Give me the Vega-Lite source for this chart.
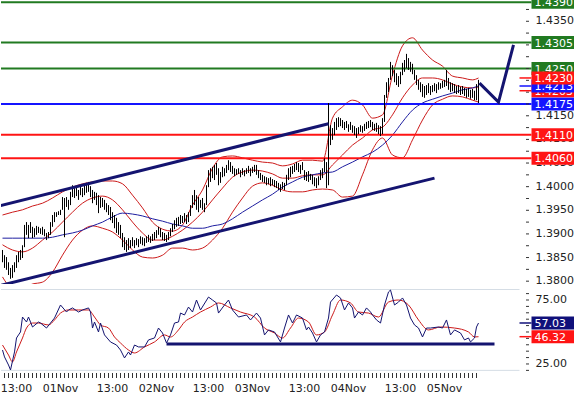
{
"$schema":"https://vega.github.io/schema/vega-lite/v6.json",
"padding":0,"background":"white","bounds":"flush","spacing":5,
"config":{"view":{"stroke":null},"font":"DejaVu Sans"},
"resolve":{"scale":{"x":"independent","y":"independent","color":"independent"}},
"datasets":{
"bars":[
{"t":"2010-10-31T09:30","h":1.3866,"l":1.3840},{"t":"2010-10-31T10:00","h":1.3855,"l":1.3828},{"t":"2010-10-31T10:30","h":1.3851,"l":1.3824},{"t":"2010-10-31T11:00","h":1.3840,"l":1.3813},{"t":"2010-10-31T11:30","h":1.3828,"l":1.3805},{"t":"2010-10-31T12:00","h":1.3834,"l":1.3807},{"t":"2010-10-31T12:30","h":1.3840,"l":1.3819},{"t":"2010-10-31T13:00","h":1.3855,"l":1.3828},{"t":"2010-10-31T13:30","h":1.3862,"l":1.3840},{"t":"2010-10-31T14:00","h":1.3866,"l":1.3845},{"t":"2010-10-31T14:30","h":1.3876,"l":1.3849},{"t":"2010-10-31T15:00","h":1.3919,"l":1.3872},{"t":"2010-10-31T15:30","h":1.3925,"l":1.3898},{"t":"2010-10-31T16:00","h":1.3919,"l":1.3891},{"t":"2010-10-31T16:30","h":1.3925,"l":1.3902},{"t":"2010-10-31T17:00","h":1.3915,"l":1.3891},{"t":"2010-10-31T17:30","h":1.3912,"l":1.3893},{"t":"2010-10-31T18:00","h":1.3917,"l":1.3898},{"t":"2010-10-31T18:30","h":1.3915,"l":1.3902},{"t":"2010-10-31T19:00","h":1.3912,"l":1.3900},{"t":"2010-10-31T19:30","h":1.3915,"l":1.3898},{"t":"2010-10-31T20:00","h":1.3910,"l":1.3895},{"t":"2010-10-31T20:30","h":1.3902,"l":1.3887},{"t":"2010-10-31T21:00","h":1.3904,"l":1.3891},{"t":"2010-10-31T21:30","h":1.3925,"l":1.3898},{"t":"2010-10-31T22:00","h":1.3940,"l":1.3915},{"t":"2010-10-31T22:30","h":1.3946,"l":1.3925},{"t":"2010-10-31T23:00","h":1.3946,"l":1.3936},{"t":"2010-10-31T23:30","h":1.3948,"l":1.3940},
{"t":"2010-11-01T00:00","h":1.3951,"l":1.3940},{"t":"2010-11-01T00:30","h":1.3978,"l":1.3951},{"t":"2010-11-01T01:00","h":1.3976,"l":1.3893},{"t":"2010-11-01T01:30","h":1.3978,"l":1.3957},{"t":"2010-11-01T02:00","h":1.3972,"l":1.3951},{"t":"2010-11-01T02:30","h":1.3989,"l":1.3961},{"t":"2010-11-01T03:00","h":1.4003,"l":1.3978},{"t":"2010-11-01T03:30","h":1.3997,"l":1.3976},{"t":"2010-11-01T04:00","h":1.3999,"l":1.3980},{"t":"2010-11-01T04:30","h":1.3993,"l":1.3972},{"t":"2010-11-01T05:00","h":1.4001,"l":1.3982},{"t":"2010-11-01T05:30","h":1.3997,"l":1.3978},{"t":"2010-11-01T06:00","h":1.4003,"l":1.3982},{"t":"2010-11-01T06:30","h":1.4008,"l":1.3987},{"t":"2010-11-01T07:00","h":1.4010,"l":1.3989},{"t":"2010-11-01T07:30","h":1.4001,"l":1.3978},{"t":"2010-11-01T08:00","h":1.3993,"l":1.3965},{"t":"2010-11-01T08:30","h":1.3989,"l":1.3972},{"t":"2010-11-01T09:00","h":1.3987,"l":1.3961},{"t":"2010-11-01T09:30","h":1.3982,"l":1.3944},{"t":"2010-11-01T10:00","h":1.3978,"l":1.3955},{"t":"2010-11-01T10:30","h":1.3976,"l":1.3957},{"t":"2010-11-01T11:00","h":1.3972,"l":1.3951},{"t":"2010-11-01T11:30","h":1.3965,"l":1.3946},{"t":"2010-11-01T12:00","h":1.3961,"l":1.3940},{"t":"2010-11-01T12:30","h":1.3957,"l":1.3929},{"t":"2010-11-01T13:00","h":1.3946,"l":1.3923},{"t":"2010-11-01T13:30","h":1.3940,"l":1.3912},{"t":"2010-11-01T14:00","h":1.3934,"l":1.3902},{"t":"2010-11-01T14:30","h":1.3925,"l":1.3898},{"t":"2010-11-01T15:00","h":1.3919,"l":1.3891},{"t":"2010-11-01T15:30","h":1.3902,"l":1.3872},{"t":"2010-11-01T16:00","h":1.3893,"l":1.3866},{"t":"2010-11-01T16:30","h":1.3887,"l":1.3862},{"t":"2010-11-01T17:00","h":1.3891,"l":1.3866},{"t":"2010-11-01T17:30","h":1.3887,"l":1.3870},{"t":"2010-11-01T18:00","h":1.3893,"l":1.3874},{"t":"2010-11-01T18:30","h":1.3887,"l":1.3870},{"t":"2010-11-01T19:00","h":1.3891,"l":1.3876},{"t":"2010-11-01T19:30","h":1.3889,"l":1.3872},{"t":"2010-11-01T20:00","h":1.3895,"l":1.3879},{"t":"2010-11-01T20:30","h":1.3893,"l":1.3876},{"t":"2010-11-01T21:00","h":1.3891,"l":1.3874},{"t":"2010-11-01T21:30","h":1.3895,"l":1.3881},{"t":"2010-11-01T22:00","h":1.3898,"l":1.3883},{"t":"2010-11-01T22:30","h":1.3895,"l":1.3881},{"t":"2010-11-01T23:00","h":1.3900,"l":1.3885},{"t":"2010-11-01T23:30","h":1.3904,"l":1.3887},
{"t":"2010-11-02T00:00","h":1.3908,"l":1.3891},{"t":"2010-11-02T00:30","h":1.3915,"l":1.3898},{"t":"2010-11-02T01:00","h":1.3912,"l":1.3893},{"t":"2010-11-02T01:30","h":1.3904,"l":1.3887},{"t":"2010-11-02T02:00","h":1.3902,"l":1.3885},{"t":"2010-11-02T02:30","h":1.3898,"l":1.3883},{"t":"2010-11-02T03:00","h":1.3904,"l":1.3887},{"t":"2010-11-02T03:30","h":1.3912,"l":1.3895},{"t":"2010-11-02T04:00","h":1.3921,"l":1.3904},{"t":"2010-11-02T04:30","h":1.3929,"l":1.3910},{"t":"2010-11-02T05:00","h":1.3934,"l":1.3915},{"t":"2010-11-02T05:30","h":1.3936,"l":1.3917},{"t":"2010-11-02T06:00","h":1.3940,"l":1.3921},{"t":"2010-11-02T06:30","h":1.3938,"l":1.3923},{"t":"2010-11-02T07:00","h":1.3944,"l":1.3925},{"t":"2010-11-02T07:30","h":1.3940,"l":1.3921},{"t":"2010-11-02T08:00","h":1.3946,"l":1.3925},{"t":"2010-11-02T08:30","h":1.3961,"l":1.3938},{"t":"2010-11-02T09:00","h":1.3982,"l":1.3955},{"t":"2010-11-02T09:30","h":1.3993,"l":1.3961},{"t":"2010-11-02T10:00","h":1.3982,"l":1.3951},{"t":"2010-11-02T10:30","h":1.3978,"l":1.3946},{"t":"2010-11-02T11:00","h":1.3972,"l":1.3955},{"t":"2010-11-02T11:30","h":1.3976,"l":1.3951},{"t":"2010-11-02T12:00","h":1.3965,"l":1.3946},{"t":"2010-11-02T12:30","h":1.4003,"l":1.3961},{"t":"2010-11-02T13:00","h":1.4035,"l":1.3999},{"t":"2010-11-02T13:30","h":1.4039,"l":1.4010},{"t":"2010-11-02T14:00","h":1.4042,"l":1.4018},{"t":"2010-11-02T14:30","h":1.4046,"l":1.4014},{"t":"2010-11-02T15:00","h":1.4050,"l":1.4025},{"t":"2010-11-02T15:30","h":1.4039,"l":1.4003},{"t":"2010-11-02T16:00","h":1.4031,"l":1.4008},{"t":"2010-11-02T16:30","h":1.4042,"l":1.4020},{"t":"2010-11-02T17:00","h":1.4039,"l":1.4022},{"t":"2010-11-02T17:30","h":1.4046,"l":1.4029},{"t":"2010-11-02T18:00","h":1.4056,"l":1.4035},{"t":"2010-11-02T18:30","h":1.4052,"l":1.4031},{"t":"2010-11-02T19:00","h":1.4044,"l":1.4027},{"t":"2010-11-02T19:30","h":1.4039,"l":1.4022},{"t":"2010-11-02T20:00","h":1.4037,"l":1.4025},{"t":"2010-11-02T20:30","h":1.4039,"l":1.4027},{"t":"2010-11-02T21:00","h":1.4035,"l":1.4020},{"t":"2010-11-02T21:30","h":1.4039,"l":1.4025},{"t":"2010-11-02T22:00","h":1.4035,"l":1.4022},{"t":"2010-11-02T22:30","h":1.4039,"l":1.4027},{"t":"2010-11-02T23:00","h":1.4044,"l":1.4029},{"t":"2010-11-02T23:30","h":1.4039,"l":1.4022},
{"t":"2010-11-03T00:00","h":1.4042,"l":1.4029},{"t":"2010-11-03T00:30","h":1.4046,"l":1.4031},{"t":"2010-11-03T01:00","h":1.4046,"l":1.4025},{"t":"2010-11-03T01:30","h":1.4035,"l":1.4018},{"t":"2010-11-03T02:00","h":1.4029,"l":1.4014},{"t":"2010-11-03T02:30","h":1.4025,"l":1.4010},{"t":"2010-11-03T03:00","h":1.4022,"l":1.4008},{"t":"2010-11-03T03:30","h":1.4020,"l":1.4003},{"t":"2010-11-03T04:00","h":1.4018,"l":1.4005},{"t":"2010-11-03T04:30","h":1.4020,"l":1.4001},{"t":"2010-11-03T05:00","h":1.4016,"l":1.4003},{"t":"2010-11-03T05:30","h":1.4014,"l":1.3999},{"t":"2010-11-03T06:00","h":1.4012,"l":1.3997},{"t":"2010-11-03T06:30","h":1.4008,"l":1.3993},{"t":"2010-11-03T07:00","h":1.4005,"l":1.3989},{"t":"2010-11-03T07:30","h":1.4010,"l":1.3995},{"t":"2010-11-03T08:00","h":1.4008,"l":1.3993},{"t":"2010-11-03T08:30","h":1.4025,"l":1.4003},{"t":"2010-11-03T09:00","h":1.4039,"l":1.4014},{"t":"2010-11-03T09:30","h":1.4042,"l":1.4020},{"t":"2010-11-03T10:00","h":1.4044,"l":1.4027},{"t":"2010-11-03T10:30","h":1.4048,"l":1.4031},{"t":"2010-11-03T11:00","h":1.4052,"l":1.4035},{"t":"2010-11-03T11:30","h":1.4050,"l":1.4031},{"t":"2010-11-03T12:00","h":1.4046,"l":1.4027},{"t":"2010-11-03T12:30","h":1.4052,"l":1.4035},{"t":"2010-11-03T13:00","h":1.4035,"l":1.4014},{"t":"2010-11-03T13:30","h":1.4031,"l":1.4012},{"t":"2010-11-03T14:00","h":1.4033,"l":1.4010},{"t":"2010-11-03T14:30","h":1.4027,"l":1.4014},{"t":"2010-11-03T15:00","h":1.4025,"l":1.4005},{"t":"2010-11-03T15:30","h":1.4020,"l":1.4001},{"t":"2010-11-03T16:00","h":1.4018,"l":1.3997},{"t":"2010-11-03T16:30","h":1.4022,"l":1.4003},{"t":"2010-11-03T17:00","h":1.4035,"l":1.4014},{"t":"2010-11-03T17:30","h":1.4039,"l":1.4018},{"t":"2010-11-03T18:00","h":1.4060,"l":1.4031},{"t":"2010-11-03T18:30","h":1.4052,"l":1.3997},{"t":"2010-11-03T19:00","h":1.4177,"l":1.4003},{"t":"2010-11-03T19:30","h":1.4130,"l":1.4088},{"t":"2010-11-03T20:00","h":1.4124,"l":1.4099},{"t":"2010-11-03T20:30","h":1.4137,"l":1.4109},{"t":"2010-11-03T21:00","h":1.4145,"l":1.4120},{"t":"2010-11-03T21:30","h":1.4147,"l":1.4126},{"t":"2010-11-03T22:00","h":1.4145,"l":1.4128},{"t":"2010-11-03T22:30","h":1.4141,"l":1.4124},{"t":"2010-11-03T23:00","h":1.4137,"l":1.4120},{"t":"2010-11-03T23:30","h":1.4139,"l":1.4124},
{"t":"2010-11-04T00:00","h":1.4132,"l":1.4116},{"t":"2010-11-04T00:30","h":1.4137,"l":1.4120},{"t":"2010-11-04T01:00","h":1.4130,"l":1.4114},{"t":"2010-11-04T01:30","h":1.4128,"l":1.4109},{"t":"2010-11-04T02:00","h":1.4124,"l":1.4103},{"t":"2010-11-04T02:30","h":1.4126,"l":1.4111},{"t":"2010-11-04T03:00","h":1.4130,"l":1.4116},{"t":"2010-11-04T03:30","h":1.4128,"l":1.4114},{"t":"2010-11-04T04:00","h":1.4133,"l":1.4118},{"t":"2010-11-04T04:30","h":1.4137,"l":1.4122},{"t":"2010-11-04T05:00","h":1.4139,"l":1.4124},{"t":"2010-11-04T05:30","h":1.4141,"l":1.4126},{"t":"2010-11-04T06:00","h":1.4137,"l":1.4120},{"t":"2010-11-04T06:30","h":1.4133,"l":1.4118},{"t":"2010-11-04T07:00","h":1.4135,"l":1.4116},{"t":"2010-11-04T07:30","h":1.4130,"l":1.4111},{"t":"2010-11-04T08:00","h":1.4128,"l":1.4107},{"t":"2010-11-04T08:30","h":1.4145,"l":1.4111},{"t":"2010-11-04T09:00","h":1.4194,"l":1.4137},{"t":"2010-11-04T09:30","h":1.4221,"l":1.4188},{"t":"2010-11-04T10:00","h":1.4230,"l":1.4200},{"t":"2010-11-04T10:30","h":1.4264,"l":1.4226},{"t":"2010-11-04T11:00","h":1.4257,"l":1.4234},{"t":"2010-11-04T11:30","h":1.4247,"l":1.4221},{"t":"2010-11-04T12:00","h":1.4240,"l":1.4215},{"t":"2010-11-04T12:30","h":1.4234,"l":1.4211},{"t":"2010-11-04T13:00","h":1.4243,"l":1.4217},{"t":"2010-11-04T13:30","h":1.4262,"l":1.4236},{"t":"2010-11-04T14:00","h":1.4268,"l":1.4243},{"t":"2010-11-04T14:30","h":1.4281,"l":1.4251},{"t":"2010-11-04T15:00","h":1.4272,"l":1.4247},{"t":"2010-11-04T15:30","h":1.4264,"l":1.4243},{"t":"2010-11-04T16:00","h":1.4260,"l":1.4238},{"t":"2010-11-04T16:30","h":1.4247,"l":1.4226},{"t":"2010-11-04T17:00","h":1.4236,"l":1.4215},{"t":"2010-11-04T17:30","h":1.4226,"l":1.4205},{"t":"2010-11-04T18:00","h":1.4221,"l":1.4200},{"t":"2010-11-04T18:30","h":1.4217,"l":1.4190},{"t":"2010-11-04T19:00","h":1.4213,"l":1.4188},{"t":"2010-11-04T19:30","h":1.4215,"l":1.4194},{"t":"2010-11-04T20:00","h":1.4219,"l":1.4198},{"t":"2010-11-04T20:30","h":1.4213,"l":1.4194},{"t":"2010-11-04T21:00","h":1.4215,"l":1.4200},{"t":"2010-11-04T21:30","h":1.4219,"l":1.4202},{"t":"2010-11-04T22:00","h":1.4217,"l":1.4198},{"t":"2010-11-04T22:30","h":1.4221,"l":1.4205},{"t":"2010-11-04T23:00","h":1.4219,"l":1.4207},{"t":"2010-11-04T23:30","h":1.4224,"l":1.4209},
{"t":"2010-11-05T00:00","h":1.4226,"l":1.4211},{"t":"2010-11-05T00:30","h":1.4247,"l":1.4213},{"t":"2010-11-05T01:00","h":1.4230,"l":1.4205},{"t":"2010-11-05T01:30","h":1.4221,"l":1.4200},{"t":"2010-11-05T02:00","h":1.4219,"l":1.4202},{"t":"2010-11-05T02:30","h":1.4217,"l":1.4198},{"t":"2010-11-05T03:00","h":1.4213,"l":1.4196},{"t":"2010-11-05T03:30","h":1.4215,"l":1.4198},{"t":"2010-11-05T04:00","h":1.4211,"l":1.4194},{"t":"2010-11-05T04:30","h":1.4213,"l":1.4196},{"t":"2010-11-05T05:00","h":1.4209,"l":1.4192},{"t":"2010-11-05T05:30","h":1.4207,"l":1.4188},{"t":"2010-11-05T06:00","h":1.4209,"l":1.4190},{"t":"2010-11-05T06:30","h":1.4205,"l":1.4186},{"t":"2010-11-05T07:00","h":1.4207,"l":1.4188},{"t":"2010-11-05T07:30","h":1.4203,"l":1.4183},{"t":"2010-11-05T08:00","h":1.4217,"l":1.4183},{"t":"2010-11-05T08:30","h":1.4226,"l":1.4177}
],
"bands":[
{"t":"2010-10-31T09:30","ub":1.3940,"mb":1.3877,"lb":1.3809,"ma":1.3891},{"t":"2010-10-31T12:00","ub":1.3946,"mb":1.3866,"lb":1.3786,"ma":1.3891},{"t":"2010-10-31T14:30","ub":1.3951,"mb":1.3862,"lb":1.3786,"ma":1.3891},{"t":"2010-10-31T17:00","ub":1.3959,"mb":1.3870,"lb":1.3794,"ma":1.3891},{"t":"2010-10-31T19:30","ub":1.3965,"mb":1.3887,"lb":1.3798,"ma":1.3891},{"t":"2010-10-31T22:00","ub":1.3976,"mb":1.3904,"lb":1.3819,"ma":1.3893},
{"t":"2010-11-01T00:30","ub":1.3989,"mb":1.3925,"lb":1.3855,"ma":1.3898},{"t":"2010-11-01T03:00","ub":1.3999,"mb":1.3946,"lb":1.3887,"ma":1.3902},{"t":"2010-11-01T05:30","ub":1.4006,"mb":1.3965,"lb":1.3908,"ma":1.3908},{"t":"2010-11-01T08:00","ub":1.4010,"mb":1.3976,"lb":1.3917,"ma":1.3917},{"t":"2010-11-01T10:30","ub":1.4012,"mb":1.3980,"lb":1.3912,"ma":1.3925},{"t":"2010-11-01T13:00","ub":1.4012,"mb":1.3972,"lb":1.3904,"ma":1.3936},{"t":"2010-11-01T15:30","ub":1.4006,"mb":1.3951,"lb":1.3887,"ma":1.3944},{"t":"2010-11-01T18:00","ub":1.3982,"mb":1.3925,"lb":1.3866,"ma":1.3942},{"t":"2010-11-01T20:30","ub":1.3955,"mb":1.3902,"lb":1.3851,"ma":1.3938},{"t":"2010-11-01T23:00","ub":1.3925,"mb":1.3887,"lb":1.3849,"ma":1.3932},
{"t":"2010-11-02T01:30","ub":1.3910,"mb":1.3887,"lb":1.3855,"ma":1.3927},{"t":"2010-11-02T04:00","ub":1.3906,"mb":1.3895,"lb":1.3870,"ma":1.3921},{"t":"2010-11-02T06:30","ub":1.3919,"mb":1.3908,"lb":1.3870,"ma":1.3917},{"t":"2010-11-02T09:00","ub":1.3961,"mb":1.3925,"lb":1.3866,"ma":1.3912},{"t":"2010-11-02T11:30","ub":1.3993,"mb":1.3946,"lb":1.3870,"ma":1.3912},{"t":"2010-11-02T14:00","ub":1.4039,"mb":1.3972,"lb":1.3887,"ma":1.3917},{"t":"2010-11-02T16:30","ub":1.4063,"mb":1.3997,"lb":1.3912,"ma":1.3921},{"t":"2010-11-02T19:00","ub":1.4065,"mb":1.4020,"lb":1.3946,"ma":1.3932},{"t":"2010-11-02T21:30","ub":1.4061,"mb":1.4031,"lb":1.3976,"ma":1.3946},
{"t":"2010-11-03T00:00","ub":1.4056,"mb":1.4035,"lb":1.4001,"ma":1.3959},{"t":"2010-11-03T02:30","ub":1.4052,"mb":1.4033,"lb":1.4008,"ma":1.3972},{"t":"2010-11-03T05:00","ub":1.4050,"mb":1.4027,"lb":1.4003,"ma":1.3984},{"t":"2010-11-03T07:30","ub":1.4044,"mb":1.4018,"lb":1.3993,"ma":1.3999},{"t":"2010-11-03T10:00","ub":1.4048,"mb":1.4018,"lb":1.3989,"ma":1.4010},{"t":"2010-11-03T12:30","ub":1.4056,"mb":1.4023,"lb":1.3989,"ma":1.4020},{"t":"2010-11-03T15:00","ub":1.4056,"mb":1.4025,"lb":1.3993,"ma":1.4025},{"t":"2010-11-03T17:30","ub":1.4054,"mb":1.4025,"lb":1.3995,"ma":1.4029},{"t":"2010-11-03T20:00","ub":1.4145,"mb":1.4046,"lb":1.3993,"ma":1.4031},{"t":"2010-11-03T22:30","ub":1.4169,"mb":1.4067,"lb":1.3978,"ma":1.4042},
{"t":"2010-11-04T01:00","ub":1.4183,"mb":1.4088,"lb":1.3980,"ma":1.4052},{"t":"2010-11-04T03:30","ub":1.4173,"mb":1.4103,"lb":1.4025,"ma":1.4063},{"t":"2010-11-04T06:00","ub":1.4145,"mb":1.4120,"lb":1.4078,"ma":1.4073},{"t":"2010-11-04T08:30","ub":1.4152,"mb":1.4126,"lb":1.4103,"ma":1.4088},{"t":"2010-11-04T11:00","ub":1.4236,"mb":1.4152,"lb":1.4067,"ma":1.4109},{"t":"2010-11-04T13:30","ub":1.4298,"mb":1.4188,"lb":1.4061,"ma":1.4137},{"t":"2010-11-04T16:00","ub":1.4315,"mb":1.4215,"lb":1.4099,"ma":1.4162},{"t":"2010-11-04T18:30","ub":1.4289,"mb":1.4230,"lb":1.4141,"ma":1.4177},{"t":"2010-11-04T21:00","ub":1.4268,"mb":1.4230,"lb":1.4173,"ma":1.4185},{"t":"2010-11-04T23:30","ub":1.4255,"mb":1.4226,"lb":1.4185,"ma":1.4192},
{"t":"2010-11-05T02:00","ub":1.4234,"mb":1.4217,"lb":1.4192,"ma":1.4198},{"t":"2010-11-05T04:30","ub":1.4230,"mb":1.4211,"lb":1.4190,"ma":1.4205},{"t":"2010-11-05T07:00","ub":1.4226,"mb":1.4209,"lb":1.4183,"ma":1.4209},{"t":"2010-11-05T08:30","ub":1.4230,"mb":1.4211,"lb":1.4179,"ma":1.4213}
],
"rsi":[
{"t":"2010-10-31T09:30","v":35.9},{"t":"2010-10-31T10:00","v":30.5},{"t":"2010-10-31T11:00","v":24.2},{"t":"2010-10-31T11:30","v":20.3},{"t":"2010-10-31T12:30","v":34.4},{"t":"2010-10-31T13:00","v":45.3},{"t":"2010-10-31T13:30","v":47.7},{"t":"2010-10-31T14:00","v":50.0},{"t":"2010-10-31T14:30","v":61.7},{"t":"2010-10-31T15:30","v":57.8},{"t":"2010-10-31T16:00","v":61.7},{"t":"2010-10-31T17:00","v":53.9},{"t":"2010-10-31T18:30","v":57.8},{"t":"2010-10-31T19:00","v":57.0},{"t":"2010-10-31T20:30","v":53.1},{"t":"2010-10-31T21:30","v":57.0},{"t":"2010-10-31T22:30","v":60.9},
{"t":"2010-11-01T00:00","v":71.1},{"t":"2010-11-01T01:30","v":65.6},{"t":"2010-11-01T02:00","v":67.2},{"t":"2010-11-01T03:00","v":68.8},{"t":"2010-11-01T04:30","v":65.6},{"t":"2010-11-01T05:30","v":67.2},{"t":"2010-11-01T07:00","v":68.8},{"t":"2010-11-01T07:30","v":65.6},{"t":"2010-11-01T08:00","v":53.1},{"t":"2010-11-01T08:30","v":57.8},{"t":"2010-11-01T09:30","v":50.0},{"t":"2010-11-01T10:00","v":57.0},{"t":"2010-11-01T11:00","v":47.7},{"t":"2010-11-01T12:30","v":42.2},{"t":"2010-11-01T14:00","v":39.8},{"t":"2010-11-01T15:00","v":35.9},{"t":"2010-11-01T16:00","v":29.7},{"t":"2010-11-01T17:00","v":34.4},{"t":"2010-11-01T17:30","v":32.0},{"t":"2010-11-01T18:30","v":39.8},{"t":"2010-11-01T19:30","v":38.3},{"t":"2010-11-01T21:00","v":38.3},{"t":"2010-11-01T22:00","v":43.8},{"t":"2010-11-01T23:30","v":45.3},
{"t":"2010-11-02T00:30","v":53.1},{"t":"2010-11-02T01:30","v":49.2},{"t":"2010-11-02T02:30","v":41.4},{"t":"2010-11-02T03:30","v":47.7},{"t":"2010-11-02T04:30","v":57.0},{"t":"2010-11-02T05:30","v":57.8},{"t":"2010-11-02T06:00","v":64.8},{"t":"2010-11-02T07:00","v":63.3},{"t":"2010-11-02T08:00","v":69.5},{"t":"2010-11-02T09:00","v":65.6},{"t":"2010-11-02T10:00","v":75.0},{"t":"2010-11-02T11:00","v":67.2},{"t":"2010-11-02T13:00","v":77.3},{"t":"2010-11-02T14:00","v":75.0},{"t":"2010-11-02T15:00","v":72.7},{"t":"2010-11-02T15:30","v":64.8},{"t":"2010-11-02T17:00","v":71.1},{"t":"2010-11-02T18:00","v":75.0},{"t":"2010-11-02T19:00","v":67.2},{"t":"2010-11-02T20:30","v":61.7},{"t":"2010-11-02T22:30","v":63.3},{"t":"2010-11-02T23:30","v":59.4},
{"t":"2010-11-03T01:00","v":64.8},{"t":"2010-11-03T02:00","v":60.9},{"t":"2010-11-03T03:00","v":47.7},{"t":"2010-11-03T04:00","v":51.6},{"t":"2010-11-03T05:30","v":50.0},{"t":"2010-11-03T07:00","v":42.2},{"t":"2010-11-03T08:00","v":53.1},{"t":"2010-11-03T09:00","v":63.3},{"t":"2010-11-03T10:00","v":57.0},{"t":"2010-11-03T11:00","v":63.3},{"t":"2010-11-03T12:30","v":60.9},{"t":"2010-11-03T13:30","v":51.6},{"t":"2010-11-03T14:00","v":53.9},{"t":"2010-11-03T15:00","v":49.2},{"t":"2010-11-03T16:00","v":42.2},{"t":"2010-11-03T17:00","v":47.7},{"t":"2010-11-03T18:00","v":50.0},{"t":"2010-11-03T19:00","v":60.9},{"t":"2010-11-03T19:30","v":73.4},{"t":"2010-11-03T21:00","v":78.9},{"t":"2010-11-03T22:00","v":76.6},{"t":"2010-11-03T23:00","v":67.2},
{"t":"2010-11-04T00:00","v":72.7},{"t":"2010-11-04T01:00","v":68.8},{"t":"2010-11-04T01:30","v":60.9},{"t":"2010-11-04T02:30","v":65.6},{"t":"2010-11-04T03:30","v":63.3},{"t":"2010-11-04T04:30","v":68.8},{"t":"2010-11-04T05:30","v":65.6},{"t":"2010-11-04T06:00","v":63.3},{"t":"2010-11-04T07:00","v":59.4},{"t":"2010-11-04T08:00","v":57.0},{"t":"2010-11-04T09:00","v":71.1},{"t":"2010-11-04T10:00","v":81.3},{"t":"2010-11-04T10:30","v":82.8},{"t":"2010-11-04T11:30","v":71.1},{"t":"2010-11-04T12:30","v":73.4},{"t":"2010-11-04T13:30","v":76.6},{"t":"2010-11-04T14:30","v":71.1},{"t":"2010-11-04T15:30","v":60.9},{"t":"2010-11-04T16:30","v":55.5},{"t":"2010-11-04T17:30","v":53.1},{"t":"2010-11-04T18:30","v":46.1},{"t":"2010-11-04T19:30","v":53.1},{"t":"2010-11-04T20:30","v":53.1},{"t":"2010-11-04T22:30","v":53.9},{"t":"2010-11-04T23:30","v":53.1},
{"t":"2010-11-05T00:30","v":59.4},{"t":"2010-11-05T01:30","v":47.7},{"t":"2010-11-05T02:30","v":51.6},{"t":"2010-11-05T04:00","v":49.2},{"t":"2010-11-05T05:00","v":43.8},{"t":"2010-11-05T06:00","v":45.3},{"t":"2010-11-05T06:30","v":42.2},{"t":"2010-11-05T07:30","v":45.3},{"t":"2010-11-05T08:00","v":53.9},{"t":"2010-11-05T08:30","v":57.0}
],
"rsima":[
{"t":"2010-10-31T09:30","v":39.8},{"t":"2010-10-31T11:00","v":32.0},{"t":"2010-10-31T12:00","v":26.6},{"t":"2010-10-31T13:00","v":34.4},{"t":"2010-10-31T14:30","v":45.3},{"t":"2010-10-31T15:30","v":53.1},{"t":"2010-10-31T17:00","v":57.0},{"t":"2010-10-31T18:30","v":57.0},{"t":"2010-10-31T21:00","v":55.5},{"t":"2010-10-31T22:30","v":59.4},
{"t":"2010-11-01T00:00","v":64.8},{"t":"2010-11-01T02:00","v":67.2},{"t":"2010-11-01T04:30","v":67.2},{"t":"2010-11-01T07:00","v":67.2},{"t":"2010-11-01T08:30","v":61.7},{"t":"2010-11-01T10:00","v":55.5},{"t":"2010-11-01T12:00","v":53.1},{"t":"2010-11-01T13:30","v":46.1},{"t":"2010-11-01T15:00","v":41.4},{"t":"2010-11-01T17:00","v":35.9},{"t":"2010-11-01T18:30","v":33.6},{"t":"2010-11-01T21:00","v":38.3},{"t":"2010-11-01T23:30","v":42.2},
{"t":"2010-11-02T02:00","v":47.7},{"t":"2010-11-02T03:30","v":46.1},{"t":"2010-11-02T05:30","v":51.6},{"t":"2010-11-02T07:00","v":57.8},{"t":"2010-11-02T09:00","v":61.7},{"t":"2010-11-02T11:00","v":65.6},{"t":"2010-11-02T13:30","v":69.5},{"t":"2010-11-02T15:30","v":72.7},{"t":"2010-11-02T18:30","v":68.8},{"t":"2010-11-02T21:00","v":65.6},
{"t":"2010-11-03T00:30","v":61.7},{"t":"2010-11-03T03:00","v":53.1},{"t":"2010-11-03T05:30","v":49.2},{"t":"2010-11-03T07:30","v":45.3},{"t":"2010-11-03T09:30","v":53.1},{"t":"2010-11-03T11:30","v":60.9},{"t":"2010-11-03T14:00","v":57.8},{"t":"2010-11-03T16:00","v":47.7},{"t":"2010-11-03T18:00","v":50.0},{"t":"2010-11-03T20:00","v":63.3},{"t":"2010-11-03T22:00","v":75.0},
{"t":"2010-11-04T00:30","v":72.7},{"t":"2010-11-04T02:30","v":65.6},{"t":"2010-11-04T05:00","v":64.8},{"t":"2010-11-04T07:30","v":61.7},{"t":"2010-11-04T10:00","v":73.4},{"t":"2010-11-04T12:30","v":75.0},{"t":"2010-11-04T15:00","v":71.1},{"t":"2010-11-04T17:30","v":59.4},{"t":"2010-11-04T20:00","v":51.6},{"t":"2010-11-04T23:00","v":53.9},
{"t":"2010-11-05T02:30","v":53.1},{"t":"2010-11-05T06:00","v":50.0},{"t":"2010-11-05T07:30","v":46.1},{"t":"2010-11-05T08:30","v":46.3}
],
"levels":[{"p":1.4390,"kind":"res"},{"p":1.4305,"kind":"res"},{"p":1.4250,"kind":"res"},{"p":1.4175,"kind":"piv"},{"p":1.4110,"kind":"sup"},{"p":1.4060,"kind":"sup"}],
"boxes":[{"p":1.4390,"label":"1.4390","kind":"res","grp":0},{"p":1.4305,"label":"1.4305","kind":"res","grp":0},{"p":1.4250,"label":"1.4250","kind":"res","grp":0},{"p":1.4175,"label":"1.4175","kind":"piv","grp":0},{"p":1.4110,"label":"1.4110","kind":"sup","grp":0},{"p":1.4060,"label":"1.4060","kind":"sup","grp":0},{"p":1.4203,"label":"1.4203","kind":"sup","grp":1},{"p":1.4213,"label":"1.4213","kind":"piv","grp":2},{"p":1.4230,"label":"1.4230","kind":"sup","grp":3}],
"channel":[{"line":"up","t":"2010-10-31T09:00","p":1.3960},{"line":"up","t":"2010-11-03T19:00","p":1.4133},{"line":"dn","t":"2010-10-31T09:00","p":1.3791},{"line":"dn","t":"2010-11-04T21:30","p":1.4018}],
"proj":[{"t":"2010-11-05T08:45","p":1.4219},{"t":"2010-11-05T13:30","p":1.4179},{"t":"2010-11-05T17:15","p":1.4300}],
"rsiline":[{"t":"2010-11-02T02:30","v":40.6},{"t":"2010-11-05T12:30","v":40.6}],
"rsiboxes":[{"v":57.03,"label":"57.03","kind":"rsi"},{"v":46.32,"label":"46.32","kind":"avg"}],
"xlabels":[{"t":"2010-10-31T13:00","label":"13:00"},{"t":"2010-11-01T00:00","label":"01Nov"},{"t":"2010-11-01T13:00","label":"13:00"},{"t":"2010-11-02T00:00","label":"02Nov"},{"t":"2010-11-02T13:00","label":"13:00"},{"t":"2010-11-03T00:00","label":"03Nov"},{"t":"2010-11-03T13:00","label":"13:00"},{"t":"2010-11-04T00:00","label":"04Nov"},{"t":"2010-11-04T13:00","label":"13:00"},{"t":"2010-11-05T00:00","label":"05Nov"}]
},
"vconcat":[
{"width":574,"height":284,
"layer":[
{"mark":{"type":"rule","color":"#d5dde5","strokeWidth":1},
 "encoding":{"x":{"datum":{"year":2010,"month":11,"date":5,"hours":9,"minutes":0},"type":"temporal","axis":null}}},
{"mark":{"type":"rule","color":"#d5dde5","strokeWidth":1},
 "encoding":{"x":{"datum":{"year":2010,"month":10,"date":31,"hours":9,"minutes":7,"seconds":30},"type":"temporal","axis":null},"x2":{"datum":{"year":2010,"month":11,"date":5,"hours":18,"minutes":45}},"y":{"datum":1.3796,"type":"quantitative","axis":null}}},
{"data":{"name":"bands"},"transform":[{"fold":["ub","mb","lb"],"as":["band","val"]}],
 "mark":{"type":"line","color":"#cc1a1a","strokeWidth":1,"interpolate":"monotone","clip":true},
 "encoding":{"x":{"field":"t","type":"temporal","axis":null},"y":{"field":"val","type":"quantitative","axis":null},"detail":{"field":"band"}}},
{"data":{"name":"bands"},"mark":{"type":"line","color":"#1e1ea0","strokeWidth":1,"interpolate":"monotone","clip":true},
 "encoding":{"x":{"field":"t","type":"temporal","axis":null},"y":{"field":"ma","type":"quantitative","axis":null}}},
{"data":{"name":"levels"},"mark":{"type":"rule","strokeWidth":2},
 "encoding":{"x":{"datum":{"year":2010,"month":10,"date":31,"hours":9,"minutes":7,"seconds":30},"type":"temporal","axis":null},"x2":{"datum":{"year":2010,"month":11,"date":5,"hours":21,"minutes":45}},"y":{"field":"p","type":"quantitative","axis":null},
  "color":{"field":"kind","type":"nominal","scale":{"domain":["res","piv","sup"],"range":["#217a21","#1414ff","#ff1414"]},"legend":null}}},
{"data":{"name":"bars"},"mark":{"type":"rule","color":"#000000","strokeWidth":1},
 "encoding":{"x":{"field":"t","type":"temporal","scale":{"domain":[{"year":2010,"month":10,"date":31,"hours":9,"minutes":7,"seconds":30},{"year":2010,"month":11,"date":6,"hours":8,"minutes":37,"seconds":30}],"nice":false},"axis":null},
  "y":{"field":"l","type":"quantitative","scale":{"domain":[1.3794,1.4395],"zero":false,"nice":false},"axis":null},
  "y2":{"field":"h"}}},
{"data":{"name":"channel"},"mark":{"type":"line","color":"#141470","strokeWidth":3,"clip":true},
 "encoding":{"x":{"field":"t","type":"temporal","axis":null},"y":{"field":"p","type":"quantitative","axis":null},"detail":{"field":"line"}}},
{"data":{"name":"proj"},"mark":{"type":"line","color":"#141470","strokeWidth":3},
 "encoding":{"x":{"field":"t","type":"temporal","axis":null},"y":{"field":"p","type":"quantitative","axis":null}}},
{"mark":{"type":"point","shape":"triangle-up","filled":true,"color":"#141470","opacity":1,"size":130,"angle":15},
 "encoding":{"x":{"datum":{"year":2010,"month":11,"date":5,"hours":17,"minutes":45},"type":"temporal","axis":null},"y":{"datum":1.4313,"type":"quantitative","axis":null}}},
{"data":{"values":[{"p":1.380},{"p":1.385},{"p":1.390},{"p":1.395},{"p":1.400},{"p":1.405},{"p":1.410},{"p":1.415},{"p":1.420},{"p":1.425},{"p":1.430},{"p":1.435}]},
 "mark":{"type":"text","align":"left","baseline":"middle","fontSize":11,"color":"#222222","dx":8},
 "encoding":{"x":{"datum":{"year":2010,"month":11,"date":5,"hours":20,"minutes":45},"type":"temporal","axis":null},"y":{"field":"p","type":"quantitative","axis":null},"text":{"field":"p","format":".4f"}}},
{"data":{"values":[{"p":1.3800},{"p":1.3825},{"p":1.3850},{"p":1.3875},{"p":1.3900},{"p":1.3925},{"p":1.3950},{"p":1.3975},{"p":1.4000},{"p":1.4025},{"p":1.4050},{"p":1.4075},{"p":1.4100},{"p":1.4125},{"p":1.4150},{"p":1.4175},{"p":1.4200},{"p":1.4225},{"p":1.4250},{"p":1.4275},{"p":1.4300},{"p":1.4325},{"p":1.4350},{"p":1.4375}]},
 "mark":{"type":"tick","orient":"horizontal","thickness":1,"size":3,"color":"#333333","opacity":1},
 "encoding":{"x":{"datum":{"year":2010,"month":11,"date":5,"hours":20,"minutes":45},"type":"temporal","axis":null},"y":{"field":"p","type":"quantitative","axis":null}}},
{"data":{"name":"boxes"},"transform":[{"filter":"datum.grp > 0"}],"mark":{"type":"tick","orient":"horizontal","thickness":1.5,"size":12,"opacity":1},
 "encoding":{"x":{"datum":{"year":2010,"month":11,"date":5,"hours":20,"minutes":15},"type":"temporal","axis":null},"y":{"field":"p","type":"quantitative","axis":null},"color":{"field":"kind","type":"nominal","legend":null}}},
{"data":{"name":"boxes"},"transform":[{"filter":"datum.grp == 0"}],"mark":{"type":"tick","orient":"horizontal","thickness":13,"size":44,"opacity":1,"clip":true},
 "encoding":{"x":{"datum":{"year":2010,"month":11,"date":6,"hours":3,"minutes":15},"type":"temporal","axis":null},"y":{"field":"p","type":"quantitative","axis":null},"color":{"field":"kind","type":"nominal","legend":null}}},
{"data":{"name":"boxes"},"transform":[{"filter":"datum.grp == 0"}],"mark":{"type":"text","align":"left","baseline":"middle","color":"white","fontSize":11,"clip":true,"dy":1},
 "encoding":{"x":{"datum":{"year":2010,"month":11,"date":5,"hours":22,"minutes":30},"type":"temporal","axis":null},"y":{"field":"p","type":"quantitative","axis":null},"text":{"field":"label"}}},
{"data":{"name":"boxes"},"transform":[{"filter":"datum.grp == 1"}],"mark":{"type":"tick","orient":"horizontal","thickness":13,"size":44,"opacity":1},
 "encoding":{"x":{"datum":{"year":2010,"month":11,"date":6,"hours":3,"minutes":15},"type":"temporal","axis":null},"y":{"field":"p","type":"quantitative","axis":null},"color":{"field":"kind","type":"nominal","legend":null}}},
{"data":{"name":"boxes"},"transform":[{"filter":"datum.grp == 1"}],"mark":{"type":"text","align":"left","baseline":"middle","color":"white","fontSize":11,"dy":1},
 "encoding":{"x":{"datum":{"year":2010,"month":11,"date":5,"hours":22,"minutes":30},"type":"temporal","axis":null},"y":{"field":"p","type":"quantitative","axis":null},"text":{"field":"label"}}},
{"data":{"name":"boxes"},"transform":[{"filter":"datum.grp == 2"}],"mark":{"type":"tick","orient":"horizontal","thickness":13,"size":44,"opacity":1},
 "encoding":{"x":{"datum":{"year":2010,"month":11,"date":6,"hours":3,"minutes":15},"type":"temporal","axis":null},"y":{"field":"p","type":"quantitative","axis":null},"color":{"field":"kind","type":"nominal","legend":null}}},
{"data":{"name":"boxes"},"transform":[{"filter":"datum.grp == 2"}],"mark":{"type":"text","align":"left","baseline":"middle","color":"white","fontSize":11,"dy":1},
 "encoding":{"x":{"datum":{"year":2010,"month":11,"date":5,"hours":22,"minutes":30},"type":"temporal","axis":null},"y":{"field":"p","type":"quantitative","axis":null},"text":{"field":"label"}}},
{"data":{"name":"boxes"},"transform":[{"filter":"datum.grp == 3"}],"mark":{"type":"tick","orient":"horizontal","thickness":13,"size":44,"opacity":1},
 "encoding":{"x":{"datum":{"year":2010,"month":11,"date":6,"hours":3,"minutes":15},"type":"temporal","axis":null},"y":{"field":"p","type":"quantitative","axis":null},"color":{"field":"kind","type":"nominal","legend":null}}},
{"data":{"name":"boxes"},"transform":[{"filter":"datum.grp == 3"}],"mark":{"type":"text","align":"left","baseline":"middle","color":"white","fontSize":11,"dy":1},
 "encoding":{"x":{"datum":{"year":2010,"month":11,"date":5,"hours":22,"minutes":30},"type":"temporal","axis":null},"y":{"field":"p","type":"quantitative","axis":null},"text":{"field":"label"}}}
]},
{"width":574,"height":82,
"layer":[
{"mark":{"type":"rule","color":"#d5dde5","strokeWidth":1},
 "encoding":{"x":{"datum":{"year":2010,"month":11,"date":5,"hours":9,"minutes":0},"type":"temporal","axis":null}}},
{"data":{"values":[{"v":83.2},{"v":20.0}]},"mark":{"type":"rule","color":"#d5dde5","strokeWidth":1},
 "encoding":{"x":{"datum":{"year":2010,"month":10,"date":31,"hours":9,"minutes":7,"seconds":30},"type":"temporal","axis":null},"x2":{"datum":{"year":2010,"month":11,"date":5,"hours":18,"minutes":45}},"y":{"field":"v","type":"quantitative","axis":null}}},
{"data":{"name":"rsiline"},"mark":{"type":"line","color":"#141470","strokeWidth":3},
 "encoding":{"x":{"field":"t","type":"temporal","axis":null},"y":{"field":"v","type":"quantitative","axis":null}}},
{"data":{"name":"rsima"},"mark":{"type":"line","color":"#cc1a1a","strokeWidth":1,"interpolate":"monotone"},
 "encoding":{"x":{"field":"t","type":"temporal","axis":null},"y":{"field":"v","type":"quantitative","axis":null}}},
{"data":{"name":"rsi"},"mark":{"type":"line","color":"#141470","strokeWidth":1},
 "encoding":{"x":{"field":"t","type":"temporal","scale":{"domain":[{"year":2010,"month":10,"date":31,"hours":9,"minutes":7,"seconds":30},{"year":2010,"month":11,"date":6,"hours":8,"minutes":37,"seconds":30}],"nice":false},"axis":null},
  "y":{"field":"v","type":"quantitative","scale":{"domain":[19.5,83.6],"zero":false,"nice":false},"axis":null}}},
{"data":{"values":[{"v":25},{"v":75}]},
 "mark":{"type":"text","align":"left","baseline":"middle","fontSize":11,"color":"#222222","dx":8},
 "encoding":{"x":{"datum":{"year":2010,"month":11,"date":5,"hours":20,"minutes":45},"type":"temporal","axis":null},"y":{"field":"v","type":"quantitative","axis":null},"text":{"field":"v","format":".2f"}}},
{"data":{"values":[{"v":20},{"v":25},{"v":30},{"v":35},{"v":40},{"v":45},{"v":50},{"v":55},{"v":60},{"v":65},{"v":70},{"v":75},{"v":80}]},
 "mark":{"type":"tick","orient":"horizontal","thickness":1,"size":3,"color":"#333333","opacity":1},
 "encoding":{"x":{"datum":{"year":2010,"month":11,"date":5,"hours":20,"minutes":45},"type":"temporal","axis":null},"y":{"field":"v","type":"quantitative","axis":null}}},
{"data":{"name":"bars"},"transform":[{"filter":"minutes(datum.t) == 0"}],
 "mark":{"type":"tick","orient":"vertical","thickness":1,"size":5,"color":"#333333","opacity":1},
 "encoding":{"x":{"field":"t","type":"temporal","axis":null},"y":{"datum":16.0,"type":"quantitative","axis":null}}},
{"data":{"name":"xlabels"},
 "mark":{"type":"text","align":"center","baseline":"middle","fontSize":11,"color":"#222222"},
 "encoding":{"x":{"field":"t","type":"temporal","axis":null},"y":{"datum":5.6,"type":"quantitative","axis":null},"text":{"field":"label"}}},
{"mark":{"type":"text","text":"30'","align":"right","baseline":"middle","fontSize":11,"color":"#222222"},
 "encoding":{"x":{"datum":{"year":2010,"month":11,"date":6,"hours":5,"minutes":45},"type":"temporal","axis":null},"y":{"datum":5.6,"type":"quantitative","axis":null}}},
{"mark":{"type":"text","text":"RSI","fontSize":13,"fontWeight":"bold","color":"#333333","align":"center","baseline":"middle"},
 "encoding":{"x":{"datum":{"year":2010,"month":11,"date":5,"hours":2,"minutes":0},"type":"temporal","axis":null},"y":{"datum":66.4,"type":"quantitative","axis":null}}},
{"data":{"name":"rsiboxes"},"mark":{"type":"tick","orient":"horizontal","thickness":1.5,"size":12,"opacity":1},
 "encoding":{"x":{"datum":{"year":2010,"month":11,"date":5,"hours":20,"minutes":15},"type":"temporal","axis":null},"y":{"field":"v","type":"quantitative","axis":null},
  "color":{"field":"kind","type":"nominal","scale":{"domain":["rsi","avg"],"range":["#10107a","#ff1414"]},"legend":null}}},
{"data":{"name":"rsiboxes"},"mark":{"type":"tick","orient":"horizontal","thickness":13,"size":44,"opacity":1},
 "encoding":{"x":{"datum":{"year":2010,"month":11,"date":6,"hours":3,"minutes":15},"type":"temporal","axis":null},"y":{"field":"v","type":"quantitative","axis":null},"color":{"field":"kind","type":"nominal","legend":null}}},
{"data":{"name":"rsiboxes"},"mark":{"type":"text","align":"left","baseline":"middle","color":"white","fontSize":11,"dy":1},
 "encoding":{"x":{"datum":{"year":2010,"month":11,"date":5,"hours":22,"minutes":30},"type":"temporal","axis":null},"y":{"field":"v","type":"quantitative","axis":null},"text":{"field":"label"}}}
]}
]
}
